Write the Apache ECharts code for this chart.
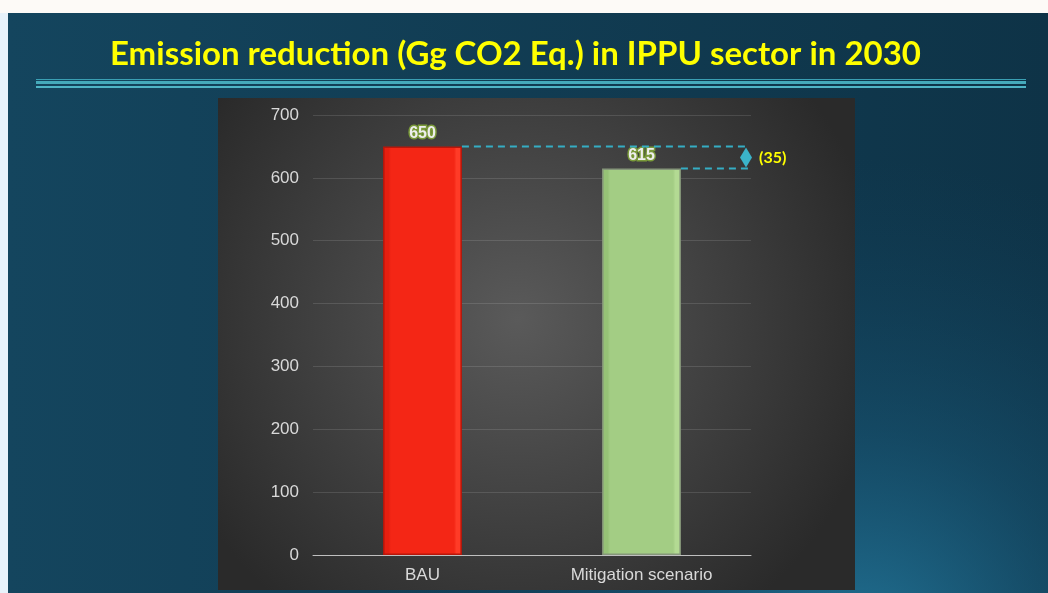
<!DOCTYPE html>
<html>
<head>
<meta charset="utf-8">
<title>Emission reduction in IPPU sector</title>
<script src="https://cdn.jsdelivr.net/npm/echarts@6/dist/echarts.min.js"></script>
<style>
  html, body { margin: 0; padding: 0; background: #fdfaf7; }
  #chart { width: 1048px; height: 593px; }
</style>
</head>
<body>
<div id="chart"></div>
<script>
// data
var categories = ['BAU', 'Mitigation scenario'];
var emissions = [650, 615];
var barColors = ['#f42615', '#a3cd84'];
var barDark = ['#e61f10', '#96c276'];
var barLight = ['#ff3b27', '#b3da93'];
var barBorders = ['#b8160a', '#86977a'];
var yTicks = [0, 100, 200, 300, 400, 500, 600, 700];

var myChart = echarts.init(document.getElementById('chart'));

var option = {
  backgroundColor: '#fdfaf7',
  title: {
    text: 'Emission reduction (Gg CO2 Eq.) in IPPU sector in 2030',
    left: 105,
    top: 33,
    textStyle: {
      color: '#ffff00',
      fontFamily: 'Lato',
      fontWeight: 'bold',
      fontSize: 33
    }
  },
  graphic: [
    // slide background
    { type: 'rect', z: -21, silent: true, shape: { x: 0, y: 13, width: 8, height: 580 }, style: { fill: '#e8f2fa' } },
    {
      type: 'rect', z: -20, silent: true,
      shape: { x: 8, y: 13, width: 1040, height: 580 },
      style: {
        fill: new echarts.graphic.LinearGradient(0, 0, 1, 0, [
          { offset: 0, color: '#14455e' },
          { offset: 1, color: '#0e3347' }
        ])
      }
    },
    {
      type: 'rect', z: -19, silent: true,
      shape: { x: 8, y: 13, width: 1040, height: 580 },
      style: {
        fill: new echarts.graphic.RadialGradient(0.82, 1.1, 0.85, [
          { offset: 0, color: 'rgba(36,122,158,0.9)' },
          { offset: 0.45, color: 'rgba(28,100,135,0.4)' },
          { offset: 1, color: 'rgba(20,70,100,0)' }
        ])
      }
    },
    // lines under the title
    { type: 'rect', z: -18, silent: true, shape: { x: 36, y: 79, width: 990, height: 1 }, style: { fill: '#3a9fb3' } },
    { type: 'rect', z: -18, silent: true, shape: { x: 36, y: 81, width: 990, height: 3 }, style: { fill: '#45aabb' } },
    { type: 'rect', z: -18, silent: true, shape: { x: 36, y: 86, width: 990, height: 2 }, style: { fill: '#4fb5c6' } },
    // chart panel
    {
      type: 'rect', z: -17, silent: true,
      shape: { x: 218, y: 98, width: 637, height: 492 },
      style: {
        fill: new echarts.graphic.RadialGradient(0.47, 0.45, 0.75, [
          { offset: 0, color: '#5a5a5a' },
          { offset: 1, color: '#2a2a2a' }
        ])
      }
    }
  ],
  grid: {
    left: 313,
    right: 297,
    top: 115,
    bottom: 38
  },
  xAxis: {
    type: 'category',
    data: categories,
    axisTick: { show: false },
    axisLine: { lineStyle: { color: '#bfbfbf', width: 1 } },
    axisLabel: {
      color: '#d9d9d9',
      fontFamily: 'Liberation Sans',
      fontSize: 17,
      margin: 12
    }
  },
  yAxis: {
    type: 'value',
    min: yTicks[0],
    max: yTicks[yTicks.length - 1],
    interval: 100,
    axisLine: { show: false },
    axisTick: { show: false },
    splitLine: { lineStyle: { color: 'rgba(255,255,255,0.12)' } },
    axisLabel: {
      color: '#d9d9d9',
      fontFamily: 'Liberation Sans',
      fontSize: 17,
      margin: 14
    }
  },
  series: [
    {
      type: 'bar',
      barWidth: '36%',
      data: emissions.map(function (v, i) {
        return {
          value: v,
          itemStyle: {
            color: new echarts.graphic.LinearGradient(0, 0, 1, 0, [
              { offset: 0, color: barDark[i] },
              { offset: 0.07, color: barDark[i] },
              { offset: 0.1, color: barColors[i] },
              { offset: 0.9, color: barColors[i] },
              { offset: 0.93, color: barLight[i] },
              { offset: 1, color: barLight[i] }
            ]),
            borderColor: barBorders[i],
            borderWidth: 1.5
          }
        };
      }),
      label: {
        show: true,
        position: 'top',
        distance: 5,
        color: '#eeeeee',
        fontFamily: 'Liberation Sans',
        fontWeight: 'bold',
        fontSize: 16,
        textBorderColor: '#7a9a3a',
        textBorderWidth: 3
      }
    },
    {
      // difference annotation
      type: 'custom',
      silent: true,
      data: [[0, emissions[0], emissions[1]]],
      encode: { x: 0, y: 1 },
      z: 5,
      renderItem: function (params, api) {
        var pB = api.coord([0, api.value(1)]);
        var pM = api.coord([1, api.value(2)]);
        var bw = api.size([1, 0])[0] * 0.36;
        var xr = params.coordSys.x + params.coordSys.width - 3;
        var mid = (pB[1] + pM[1]) / 2;
        var dash = { stroke: '#35adc4', lineWidth: 2, lineDash: [7, 5] };
        var diff = api.value(1) - api.value(2);
        return {
          type: 'group',
          children: [
            { type: 'line', shape: { x1: pB[0] + bw / 2, y1: pB[1], x2: xr, y2: pB[1] }, style: dash },
            { type: 'line', shape: { x1: pM[0] + bw / 2, y1: pM[1], x2: xr, y2: pM[1] }, style: dash },
            {
              type: 'polygon',
              shape: { points: [[xr - 2, pB[1] + 1], [xr + 4, mid], [xr - 2, pM[1] - 1], [xr - 8, mid]] },
              style: { fill: '#3bb3c9' }
            },
            {
              type: 'text',
              x: xr + 11, y: mid,
              style: {
                text: '(' + diff + ')',
                fill: '#ffff00',
                font: 'bold 16px Lato',
                verticalAlign: 'middle'
              }
            }
          ]
        };
      }
    }
  ]
};

myChart.setOption(option);
</script>
</body>
</html>
